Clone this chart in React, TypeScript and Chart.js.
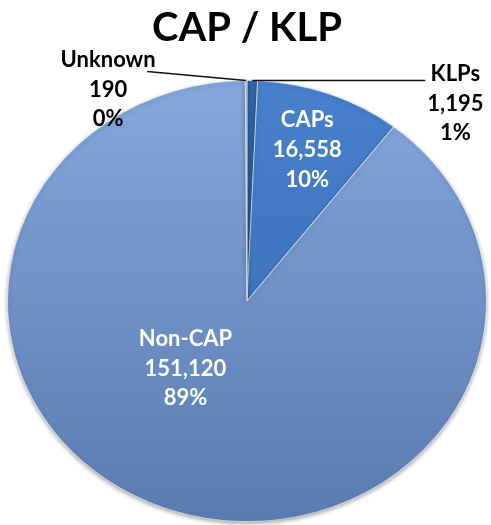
import React, { useEffect, useRef } from "react";
import { Chart, registerables } from "chart.js";

Chart.register(...registerables);

const titleText = "CAP / KLP";
const categories = ["KLPs", "CAPs", "Non-CAP", "Unknown"];
const counts = [1195, 16558, 151120, 190];
const countLabels = ["1,195", "16,558", "151,120", "190"];
const percentLabels = ["1%", "10%", "89%", "0%"];

// gradient stops per slice (top, bottom)
const sliceColors: [string, string][] = [
  ["#3467ad", "#2a5794"],
  ["#4780cc", "#3768ae"],
  ["#84a7dc", "#5a7baf"],
  ["#86a9dd", "#7397cf"],
];

const X_STRETCH = 1.086;

const FONT = "bold 22px Lato";

export default function App() {
  const ref = useRef<HTMLCanvasElement | null>(null);

  useEffect(() => {
    document.body.style.margin = "0";
    const canvas = ref.current;
    if (!canvas) return;

    const stretchPlugin = {
      id: "stretch",
      beforeDatasetsDraw(chart: any) {
        const meta = chart.getDatasetMeta(0);
        const arc = meta.data[0];
        if (!arc) return;
        const ctx = chart.ctx;
        ctx.save();
        ctx.translate(arc.x, arc.y);
        ctx.scale(X_STRETCH, 1);
        ctx.translate(-arc.x, -arc.y);
        ctx.shadowColor = "rgba(0,0,0,0.35)";
        ctx.shadowBlur = 4;
        ctx.shadowOffsetY = 2;
      },
      afterDatasetsDraw(chart: any) {
        chart.ctx.restore();
      },
    };

    const labelPlugin = {
      id: "sliceLabels",
      afterDraw(chart: any) {
        const ctx = chart.ctx;
        const meta = chart.getDatasetMeta(0);
        const lineGap = 29.7;
        const pointAt = (el: any, angle: number, rf: number) => ({
          x: el.x + X_STRETCH * el.outerRadius * rf * Math.cos(angle),
          y: el.y + el.outerRadius * rf * Math.sin(angle),
        });
        const drawLines = (i: number, cx: number, cy: number, color: string) => {
          ctx.save();
          ctx.font = FONT;
          ctx.fillStyle = color;
          ctx.textAlign = "center";
          ctx.textBaseline = "middle";
          const lines = [categories[i], countLabels[i], percentLabels[i]];
          lines.forEach((t, k) => ctx.fillText(t, cx, cy + (k - 1) * lineGap));
          ctx.restore();
        };
        const drawLeader = (x1: number, y1: number, x2: number, y2: number) => {
          ctx.save();
          ctx.strokeStyle = "#111";
          ctx.lineWidth = 1.5;
          ctx.beginPath();
          ctx.moveTo(x1, y1);
          ctx.lineTo(x2, y2);
          ctx.stroke();
          ctx.restore();
        };
        meta.data.forEach((el: any, i: number) => {
          const mid = (el.startAngle + el.endAngle) / 2;
          if (i === 0) {
            const a = pointAt(el, mid, 1);
            drawLeader(a.x, a.y, a.x + 173, a.y);
            drawLines(i, a.x + 203, a.y + 23, "#000");
          } else if (i === 3) {
            const a = pointAt(el, mid, 1);
            drawLeader(a.x, a.y, a.x - 99, a.y - 9);
            drawLines(i, a.x - 138, a.y + 9, "#000");
          } else if (i === 1) {
            const p = pointAt(el, mid, 0.73);
            drawLines(i, p.x, p.y, "#ffffff");
          } else {
            const p = pointAt(el, (220 - 90) * Math.PI / 180, 0.4);
            drawLines(i, p.x, p.y, "#ffffff");
          }
        });
      },
    };

    const chart = new Chart(canvas, {
      type: "pie",
      data: {
        labels: categories,
        datasets: [
          {
            data: counts,
            backgroundColor: (c: any) => {
              const area = c.chart.chartArea;
              const stops = sliceColors[c.dataIndex] || sliceColors[2];
              if (!area) return stops[0];
              const g = c.chart.ctx.createLinearGradient(0, area.top, 0, area.bottom);
              g.addColorStop(0, stops[0]);
              g.addColorStop(1, stops[1]);
              return g;
            },
            borderColor: "rgba(255,255,255,0.55)",
            borderWidth: 1,
          },
        ],
      },
      options: {
        animation: false,
        responsive: false,
        events: [],
        layout: { padding: { left: 7, right: 4, top: 0, bottom: 3 } },
        plugins: {
          legend: { display: false },
          tooltip: { enabled: false },
          title: {
            display: true,
            text: titleText,
            color: "#000",
            font: { family: "Lato", weight: "bold", size: 40 },
            padding: { top: 4, bottom: 28 },
          },
        },
      },
      plugins: [stretchPlugin, labelPlugin],
    });

    return () => chart.destroy();
  }, []);

  return (
    <div style={{ width: 491, height: 525, overflow: "hidden", background: "#fff" }}>
      <canvas ref={ref} width={491} height={525} style={{ display: "block" }} />
    </div>
  );
}
